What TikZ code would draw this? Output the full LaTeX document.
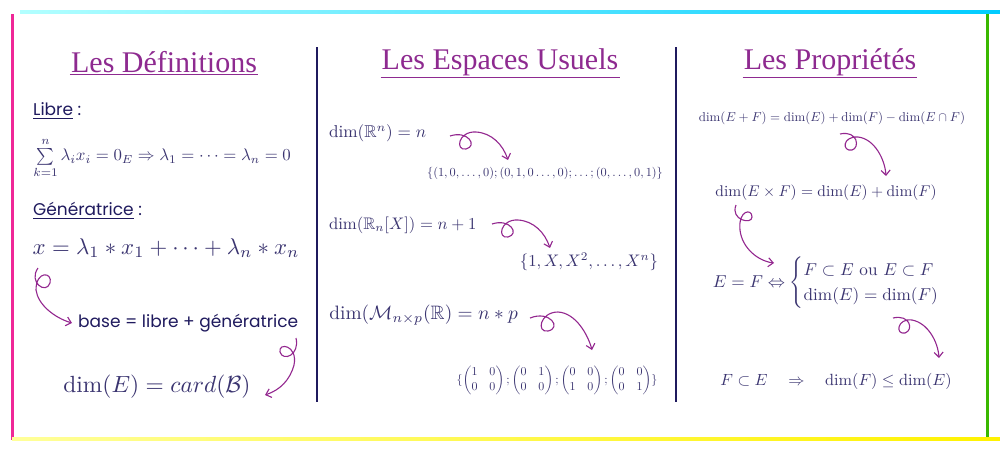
\documentclass[tikz,border=0pt]{standalone}
\usepackage{amsmath,amssymb}
\usepackage{fontspec}
\newfontfamily\titlefont{Liberation Serif}
\newfontfamily\popfont{Poppins}
\usetikzlibrary{arrows.meta}
\definecolor{ttl}{HTML}{8E2A90}
\definecolor{arr}{HTML}{93278F}
\definecolor{navy}{HTML}{1F1A5E}
\definecolor{mth}{HTML}{3A3470}
\begin{document}
\begin{tikzpicture}[x=1pt,y=-1pt,
  title/.style={text=ttl,font=\titlefont\fontsize{30}{33}\selectfont,inner sep=1pt},
  lbl/.style={text=navy,font=\popfont\fontsize{17}{20}\selectfont,inner sep=0pt},
  mth/.style={text=mth,inner sep=1pt},
  loop/.style={draw=arr,line width=1.1pt,-{Straight Barb[length=5pt,width=9pt]}},
  divider/.style={draw=navy,line width=1.6pt}]
\useasboundingbox (0,0) rectangle (1000,450);
\fill[white] (0,0) rectangle (1000,450);
% frame
\shade[left color=cyan!30,right color=cyan!80!blue] (20,10) rectangle (1000,13);
\fill[magenta!80!pink] (11,14) rectangle (14,440);
\shade[left color=yellow!40,right color=yellow!90!orange] (12,437) rectangle (1000,440);
\fill[green!60!black!70!lime] (986,14) rectangle (989,437);
\draw[divider] (317,47) -- (317,402);
\draw[divider] (676,47) -- (676,402);
% titles
\node[title] (t1) at (164,62) {Les Définitions};
\node[title] (t2) at (500,62) {Les Espaces Usuels};
\node[title] (t3) at (830,62) {Les Propriétés};
\foreach \t in {t1,t2,t3} \draw[ttl,line width=1pt] (\t.south west)++(0,1) -- ([yshift=-1pt]\t.south east);
% column 1
\node[lbl,anchor=west] (libre) at (33,111) {\underline{Libre} :};
\node[mth,anchor=west,scale=1.68,inner sep=0pt] (sum) at (33,158) {$\sum\limits_{k=1}^{n}\lambda_i x_i = 0_E \Rightarrow \lambda_1=\dots=\lambda_n=0$};
\node[lbl,anchor=west] (gen) at (33,211) {\underline{Génératrice} :};
\node[mth,anchor=west,scale=2.28] (x) at (30,248) {$x=\lambda_1 * x_1+\dots+\lambda_n * x_n$};
\node[lbl,anchor=west] (base) at (78,323) {base = libre + génératrice};
\node[mth,scale=2.34] (card) at (157,387) {$\dim(E)=card(\mathcal{B})$};
\draw[loop] (38,268) .. controls (28,282) and (46,295) .. (50,283) .. controls (53,272) and (36,270) .. (36,290) .. controls (38,305) and (55,318) .. (72,323);
\draw[loop] (296,338) .. controls (300,355) and (283,362) .. (280,352) .. controls (278,342) and (298,345) .. (294,365) .. controls (290,380) and (280,390) .. (265,395);
% column 2
\node[mth,anchor=west,scale=1.72] (rn) at (327,133) {$\dim(\mathbb{R}^n)=n$};
\node[mth,scale=1.23] (rnb) at (545,173) {$\{(1,0,\dots,0);(0,1,0\dots,0);\dots;(0,\dots,0,1)\}$};
\node[mth,anchor=west,scale=1.67] (rx) at (327,225) {$\dim(\mathbb{R}_n[X])=n+1$};
\node[mth,scale=1.67] (rxb) at (589,262) {$\{1,X,X^2,\dots,X^n\}$};
\node[mth,anchor=west,scale=1.94] (m) at (327,315) {$\dim(\mathcal{M}_{n\times p}(\mathbb{R})=n*p$};
\node[mth,scale=1.2] (mb) at (557,380) {$\{\begin{pmatrix}1&0\\0&0\end{pmatrix};\begin{pmatrix}0&1\\0&0\end{pmatrix};\begin{pmatrix}0&0\\1&0\end{pmatrix};\begin{pmatrix}0&0\\0&1\end{pmatrix}\}$};
\draw[loop] (450,136) .. controls (468,130) and (478,146) .. (466,149) .. controls (455,151) and (458,131) .. (476,132) .. controls (492,133) and (503,145) .. (508,160);
\draw[loop] (492,224) .. controls (510,218) and (520,234) .. (508,237) .. controls (497,239) and (500,219) .. (518,220) .. controls (534,221) and (545,233) .. (550,248);
\draw[loop] (530,318) .. controls (550,310) and (562,328) .. (548,331) .. controls (536,333) and (540,312) .. (558,312) .. controls (576,313) and (588,335) .. (592,350);
% column 3
\node[mth,scale=1.29] (ef) at (832,118) {$\dim(E+F)=\dim(E)+\dim(F)-\dim(E\cap F)$};
\node[mth,scale=1.55] (exf) at (826,193) {$\dim(E\times F)=\dim(E)+\dim(F)$};
\node[mth,scale=1.72] (eq) at (835,283) {$E=F\Leftrightarrow\begin{cases}F\subset E\text{ ou }E\subset F\\ \dim(E)=\dim(F)\end{cases}$};
\node[mth,scale=1.62] (inc) at (836,381) {$F\subset E\quad\Rightarrow\quad\dim(F)\leq\dim(E)$};
\draw[loop] (840,134) .. controls (858,130) and (860,148) .. (852,150) .. controls (842,152) and (842,136) .. (858,137) .. controls (875,139) and (885,160) .. (886,176);
\draw[loop] (736,205) .. controls (730,220) and (752,225) .. (752,217) .. controls (752,208) and (738,210) .. (740,230) .. controls (742,248) and (758,261) .. (774,263);
\draw[loop] (893,318) .. controls (910,314) and (914,330) .. (905,333) .. controls (895,335) and (897,318) .. (912,320) .. controls (928,323) and (938,342) .. (939,358);
\end{tikzpicture}
\end{document}
